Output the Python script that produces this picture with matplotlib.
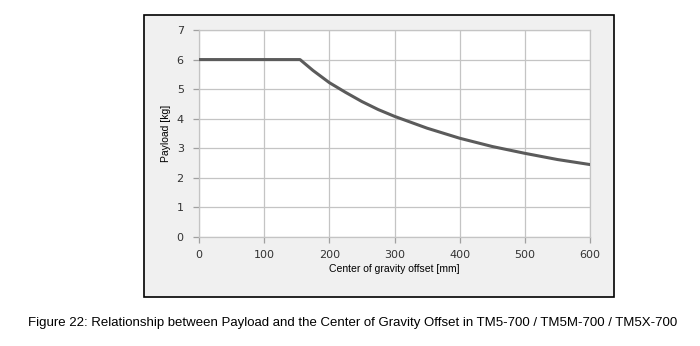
import matplotlib.pyplot as plt
from matplotlib.patches import Rectangle

# data
offset_mm = [0, 155, 175, 200, 225, 250, 275, 300, 350, 400, 450, 500, 550, 600]
payload_kg = [6, 6, 5.63, 5.22, 4.89, 4.58, 4.31, 4.08, 3.68, 3.34, 3.06, 2.83, 2.62, 2.45]
x_ticks = [0, 100, 200, 300, 400, 500, 600]
y_ticks = [0, 1, 2, 3, 4, 5, 6, 7]
caption = "Figure 22: Relationship between Payload and the Center of Gravity Offset in TM5-700 / TM5M-700 / TM5X-700"

W, H = 700, 346
fig = plt.figure(figsize=(W / 100, H / 100), dpi=100)
fig.patch.set_facecolor("white")

# grey chart box, behind the axes
box = Rectangle((144 / W, 1 - 297 / H), (614 - 144) / W, (297 - 15) / H,
                transform=fig.transFigure, facecolor="#f0f0f0",
                edgecolor="black", linewidth=1.2)
box.set_zorder(-10)
fig.add_artist(box)

ax = fig.add_axes([199 / W, 1 - 237 / H, (590 - 199) / W, (237 - 30) / H])
ax.set_zorder(1)
ax.set_facecolor("white")
ax.plot(offset_mm, payload_kg, color="#5b5b5b", linewidth=2.2, solid_capstyle="round", zorder=3)

ax.set_xlim(0, 600)
ax.set_ylim(0, 7)
ax.set_xticks(x_ticks)
ax.set_yticks(y_ticks)
ax.grid(True, color="#c4c4c4", linewidth=0.9)
for s in ax.spines.values():
    s.set_color("#c4c4c4")
    s.set_linewidth(0.9)
ax.tick_params(axis="both", colors="#a0a0a0", length=4, width=0.9,
               labelcolor="#333333", labelsize=8)
ax.tick_params(axis="x", pad=5)
ax.tick_params(axis="y", pad=7)
for lbl in ax.get_xticklabels() + ax.get_yticklabels():
    lbl.set_fontfamily("DejaVu Sans")

ax.set_xlabel("Center of gravity offset [mm]", fontsize=7.5, family="Liberation Sans", labelpad=3)
ax.set_ylabel("Payload [kg]", fontsize=7.5, family="Liberation Sans", labelpad=4)

fig.text(353 / W, 1 - 323 / H, caption, ha="center", va="center",
         fontsize=9.55, family="Liberation Sans", color="black")

fig.savefig("out.png", dpi=100)
